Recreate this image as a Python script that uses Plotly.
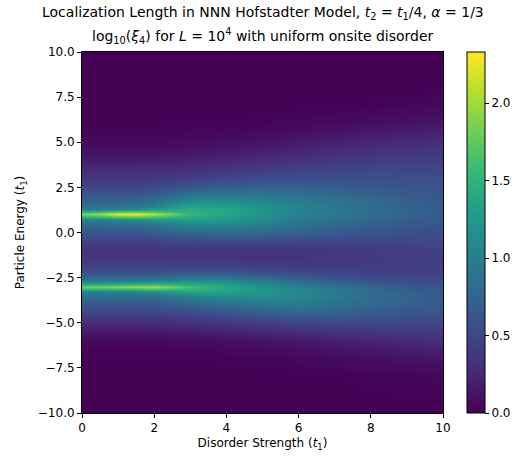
import plotly.graph_objects as go

# Disorder strength W (columns) and particle energy E (rows)
disorder = [0, 0.5, 1, 1.5, 2, 3, 4, 5, 6, 7, 8, 9, 10]
energy = [-10, -8, -7, -6.5, -6, -5.5, -5, -4.5, -4, -3.6, -3.3, -3, -2.7, -2.4, -2,
          -1.5, -1, -0.5, 0, 0.4, 0.7, 1.0, 1.3, 1.6, 2, 2.5, 3, 3.5, 4, 4.5, 5, 5.5,
          6, 7, 8, 10]

# log10(xi_4), rows follow `energy`, columns follow `disorder`
log_xi = [
    [0, 0, 0, 0, 0, 0, 0, 0, 0, 0, 0, 0, 0],                                      # -10
    [0, 0, 0, 0, 0, 0, 0, 0, 0, 0.01, 0.02, 0.03, 0.04],                          # -8
    [0.01, 0.01, 0.01, 0.01, 0.01, 0.01, 0.02, 0.03, 0.05, 0.07, 0.09, 0.11, 0.13],  # -7
    [0.02, 0.02, 0.02, 0.02, 0.02, 0.03, 0.05, 0.07, 0.09, 0.12, 0.15, 0.18, 0.21],  # -6.5
    [0.06, 0.06, 0.06, 0.06, 0.06, 0.07, 0.09, 0.12, 0.15, 0.19, 0.23, 0.27, 0.30],  # -6
    [0.15, 0.15, 0.15, 0.15, 0.16, 0.17, 0.21, 0.25, 0.29, 0.33, 0.36, 0.39, 0.40],  # -5.5
    [0.28, 0.28, 0.28, 0.28, 0.29, 0.32, 0.37, 0.42, 0.48, 0.50, 0.50, 0.50, 0.50],  # -5
    [0.45, 0.45, 0.45, 0.45, 0.46, 0.50, 0.58, 0.65, 0.72, 0.70, 0.66, 0.62, 0.60],  # -4.5
    [0.62, 0.62, 0.62, 0.62, 0.63, 0.72, 0.82, 0.90, 0.95, 0.86, 0.76, 0.70, 0.65],  # -4
    [0.80, 0.80, 0.80, 0.80, 0.82, 1.00, 1.10, 1.12, 1.08, 0.95, 0.83, 0.74, 0.66],  # -3.6
    [1.00, 1.00, 1.00, 1.02, 1.10, 1.35, 1.35, 1.22, 1.10, 0.96, 0.83, 0.72, 0.64],  # -3.3
    [1.80, 1.85, 1.90, 1.95, 2.00, 1.65, 1.40, 1.20, 1.02, 0.90, 0.77, 0.67, 0.60],  # -3
    [1.00, 1.00, 1.00, 1.02, 1.08, 1.20, 1.15, 0.98, 0.82, 0.68, 0.60, 0.55, 0.52],  # -2.7
    [0.70, 0.70, 0.70, 0.70, 0.72, 0.80, 0.80, 0.70, 0.62, 0.54, 0.50, 0.48, 0.48],  # -2.4
    [0.50, 0.50, 0.50, 0.50, 0.50, 0.52, 0.52, 0.48, 0.45, 0.44, 0.44, 0.44, 0.45],  # -2
    [0.38, 0.38, 0.38, 0.38, 0.38, 0.37, 0.37, 0.36, 0.36, 0.38, 0.40, 0.42, 0.43],  # -1.5
    [0.33, 0.33, 0.33, 0.33, 0.33, 0.33, 0.33, 0.33, 0.34, 0.37, 0.40, 0.43, 0.45],  # -1
    [0.45, 0.45, 0.45, 0.45, 0.46, 0.48, 0.48, 0.47, 0.46, 0.47, 0.48, 0.49, 0.50],  # -0.5
    [0.60, 0.60, 0.60, 0.62, 0.65, 0.75, 0.80, 0.78, 0.72, 0.66, 0.61, 0.57, 0.55],  # 0
    [0.78, 0.78, 0.80, 0.82, 0.88, 1.05, 1.05, 0.98, 0.85, 0.77, 0.70, 0.64, 0.60],  # 0.4
    [1.00, 1.00, 1.05, 1.10, 1.20, 1.30, 1.25, 1.12, 0.95, 0.86, 0.77, 0.69, 0.63],  # 0.7
    [1.85, 2.00, 2.25, 2.30, 2.05, 1.55, 1.35, 1.20, 1.00, 0.92, 0.82, 0.73, 0.66],  # 1.0
    [1.00, 1.00, 1.05, 1.10, 1.25, 1.45, 1.38, 1.20, 1.03, 0.94, 0.83, 0.74, 0.67],  # 1.3
    [0.80, 0.80, 0.82, 0.85, 0.95, 1.25, 1.25, 1.15, 1.02, 0.92, 0.82, 0.73, 0.66],  # 1.6
    [0.65, 0.65, 0.66, 0.67, 0.72, 0.95, 1.00, 0.95, 0.90, 0.83, 0.75, 0.68, 0.63],  # 2
    [0.50, 0.50, 0.50, 0.50, 0.52, 0.62, 0.70, 0.72, 0.72, 0.69, 0.65, 0.62, 0.60],  # 2.5
    [0.38, 0.38, 0.38, 0.38, 0.39, 0.44, 0.50, 0.55, 0.58, 0.58, 0.57, 0.56, 0.55],  # 3
    [0.28, 0.28, 0.28, 0.28, 0.29, 0.31, 0.36, 0.41, 0.45, 0.48, 0.50, 0.50, 0.50],  # 3.5
    [0.18, 0.18, 0.18, 0.18, 0.18, 0.21, 0.25, 0.30, 0.34, 0.38, 0.41, 0.43, 0.44],  # 4
    [0.11, 0.11, 0.11, 0.11, 0.11, 0.13, 0.16, 0.20, 0.24, 0.29, 0.33, 0.36, 0.38],  # 4.5
    [0.06, 0.06, 0.06, 0.06, 0.06, 0.08, 0.10, 0.13, 0.17, 0.21, 0.25, 0.28, 0.30],  # 5
    [0.03, 0.03, 0.03, 0.03, 0.03, 0.04, 0.05, 0.07, 0.10, 0.13, 0.17, 0.20, 0.22],  # 5.5
    [0.01, 0.01, 0.01, 0.01, 0.01, 0.02, 0.02, 0.03, 0.05, 0.07, 0.10, 0.12, 0.15],  # 6
    [0, 0, 0, 0, 0, 0, 0, 0, 0.01, 0.01, 0.02, 0.04, 0.06],                        # 7
    [0, 0, 0, 0, 0, 0, 0, 0, 0, 0, 0, 0, 0.01],                                    # 8
    [0, 0, 0, 0, 0, 0, 0, 0, 0, 0, 0, 0, 0],                                       # 10
]

x_ticks = [0, 2, 4, 6, 8, 10]
y_ticks = [-10, -7.5, -5, -2.5, 0, 2.5, 5, 7.5, 10]
y_tick_text = [("\u2212" if v < 0 else "") + f"{abs(v):.1f}" for v in y_ticks]
cbar_ticks = [0, 0.5, 1.0, 1.5, 2.0]
cbar_text = [f"{v:.1f}" for v in cbar_ticks]

title_line1 = ("Localization Length in NNN Hofstadter Model, <i>t</i><sub>2</sub> = "
               "<i>t</i><sub>1</sub>/4, <i>α</i> = 1/3")
title_line2 = ("log<sub>10</sub>(<i>ξ</i><sub>4</sub>) for <i>L</i> = 10<sup>4</sup> "
               "with uniform onsite disorder")

FONT = "DejaVu Sans"

fig = go.Figure(go.Heatmap(
    x=disorder, y=energy, z=log_xi,
    colorscale="Viridis", zmin=0, zmax=2.33, zsmooth="best",
    colorbar=dict(
        thickness=18, len=1.0, lenmode="fraction", y=0.5, yanchor="middle",
        x=1.066, xanchor="left", xpad=0, ypad=0,
        outlinecolor="black", outlinewidth=1,
        tickvals=cbar_ticks, ticktext=cbar_text, ticks="outside", ticklen=4,
        tickcolor="black",
        tickfont=dict(family=FONT, size=12, color="black"),
    ),
))

fig.update_layout(
    width=518, height=457,
    margin=dict(l=82, r=75, t=52, b=44, autoexpand=False),
    paper_bgcolor="white", plot_bgcolor="white",
    font=dict(family=FONT, color="black"),
    annotations=[
        dict(text=title_line1, xref="paper", yref="paper", x=0.5, y=1.0,
             yshift=39, xanchor="center", yanchor="middle", showarrow=False,
             font=dict(family=FONT, size=14, color="black")),
        dict(text=title_line2, xref="paper", yref="paper", x=0.5, y=1.0,
             yshift=16, xanchor="center", yanchor="middle", showarrow=False,
             font=dict(family=FONT, size=14, color="black")),
    ],
    xaxis=dict(
        range=[0, 10], tickvals=x_ticks, ticktext=[str(v) for v in x_ticks],
        showline=True, linecolor="black", linewidth=1, mirror=True,
        ticks="outside", ticklen=4, tickcolor="black", showgrid=False, zeroline=False,
        tickfont=dict(family=FONT, size=12, color="black"),
        title=dict(text="Disorder Strength (<i>t</i><sub>1</sub>)", standoff=4,
                   font=dict(family=FONT, size=12, color="black")),
    ),
    yaxis=dict(
        range=[-10, 10], tickvals=y_ticks, ticktext=y_tick_text,
        showline=True, linecolor="black", linewidth=1, mirror=True,
        ticks="outside", ticklen=4, tickcolor="black", showgrid=False, zeroline=False,
        tickfont=dict(family=FONT, size=12, color="black"),
        title=dict(text="Particle Energy (<i>t</i><sub>1</sub>)", standoff=10,
                   font=dict(family=FONT, size=12, color="black")),
    ),
)

fig.write_html("out.html")
